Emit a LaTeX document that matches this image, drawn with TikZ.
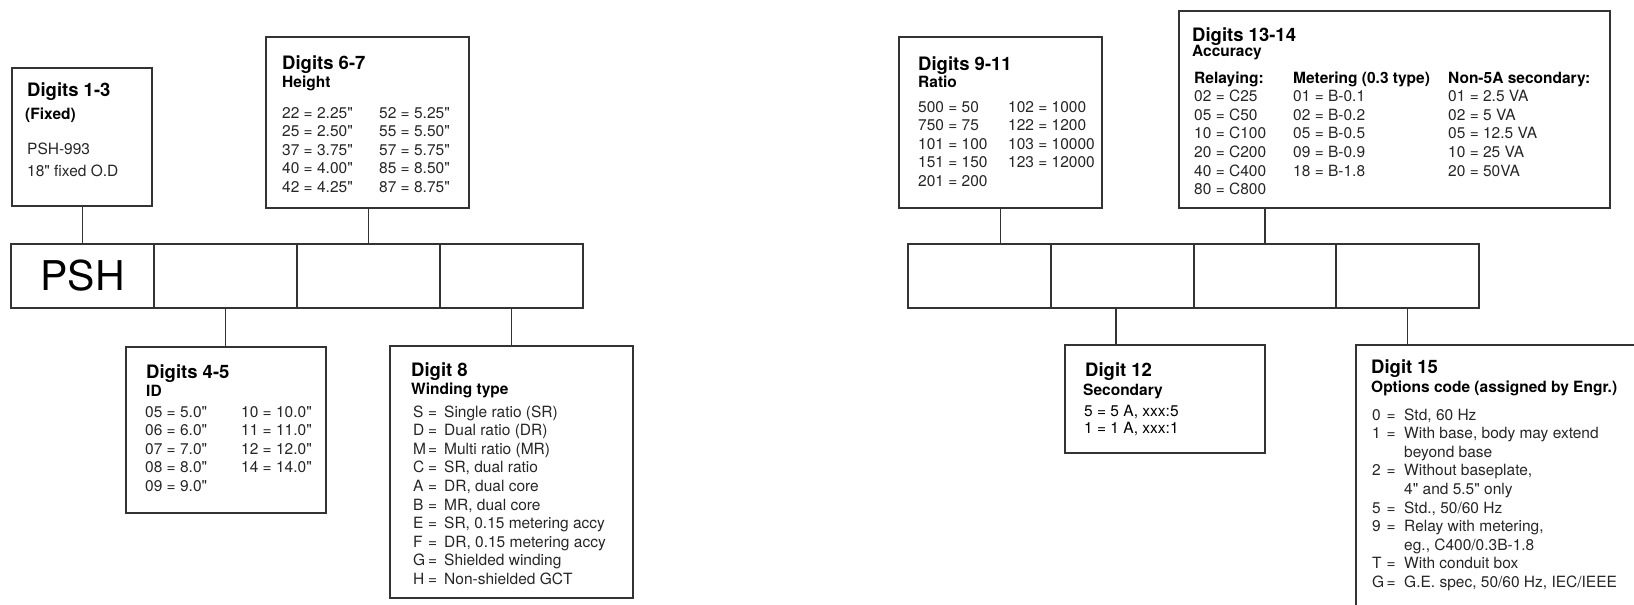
\documentclass[tikz,border=0pt]{standalone}
\usepackage{fontspec}
\setmainfont{TeX Gyre Heros}
% straight inch mark, set without the TeX quote mapping
\font\inchfont="TeX Gyre Heros" at 15.5pt
\newcommand{\inch}{{\inchfont\char"22}}

\begin{document}
\begin{tikzpicture}[x=1pt, y=-1pt,
  infobox/.style={draw=black!80, line width=1.2pt, inner sep=0pt},
  cell/.style={draw=black!80, line width=1.2pt, inner sep=0pt,
               minimum width=143pt, minimum height=64pt},
  link/.style={draw=black!80, line width=1.2pt},
  head/.style={anchor=base west, inner sep=0pt,
               font=\fontsize{18.5}{20}\selectfont\bfseries},
  sub/.style={anchor=base west, inner sep=0pt,
              font=\fontsize{15.5}{18}\selectfont\bfseries},
  body/.style={anchor=base west, inner sep=0pt, text=black!85,
               font=\fontsize{15.5}{18.6}\selectfont}
]
  \useasboundingbox (0,0) rectangle (1634,605);

  % left code row
  \node[cell, font=\fontsize{41}{41}\selectfont] (l1) at (82.5,276) {PSH};
  \node[cell] (l2) at (225.5,276) {};
  \node[cell] (l3) at (368.5,276) {};
  \node[cell] (l4) at (511.5,276) {};

  % right code row
  \node[cell] (r1) at (979.5,276) {};
  \node[cell] (r2) at (1122.5,276) {};
  \node[cell] (r3) at (1265,276) {};
  \node[cell] (r4) at (1407.5,276) {};

  % boxes
  \node[infobox, minimum width=140pt, minimum height=138pt] (fix)   at (82,137) {};
  \node[infobox, minimum width=203pt, minimum height=171pt] (hgt)   at (367.5,122.5) {};
  \node[infobox, minimum width=200pt, minimum height=166pt] (id)    at (226,430) {};
  \node[infobox, minimum width=243pt, minimum height=252pt] (wind)  at (511.5,472) {};
  \node[infobox, minimum width=203pt, minimum height=171pt] (ratio) at (1000.5,122.5) {};
  \node[infobox, minimum width=431pt, minimum height=197pt] (acc)   at (1394.5,109.5) {};
  \node[infobox, minimum width=200pt, minimum height=108pt] (sec)   at (1165,399) {};
  \node[infobox, minimum width=344pt, minimum height=335pt] (opt)   at (1528,512.5) {};

  % connectors
  \draw[link] (l1.north) -- (l1.north |- fix.south);
  \draw[link] (l3.north) -- (l3.north |- hgt.south);
  \draw[link] (l2.south) -- (l2.south |- id.north);
  \draw[link] (l4.south) -- (l4.south |- wind.north);
  \draw[link] (ratio.south) -- (ratio.south |- r1.north);
  \draw[link] (r3.north) -- (r3.north |- acc.south);
  \draw[link] ([xshift=-6.5pt]r2.south) -- ([xshift=-6.5pt]r2.south |- sec.north);
  \draw[link] (r4.south) -- (r4.south |- opt.north);

  % Digits 1-3
  \node[head] (fixT) at (27,96) {Digits 1-3};
  \node[sub]  (fixS) at (25,119) {(Fixed)};
  \node[body, font=\fontsize{15.5}{22}\selectfont] (fixB) at (27,154)
    {\begin{tabular}[t]{@{}l@{}}PSH-993\\18\inch{} fixed O.D\end{tabular}};

  % Digits 6-7
  \node[head] (hgtT) at (282,69) {Digits 6-7};
  \node[sub]  (hgtS) at (282,87) {Height};
  \node[body] (hgtB) at (282,118) {\begin{tabular}[t]{@{}p{97pt}@{}l@{}}
    22 = 2.25\inch & 52 = 5.25\inch\\
    25 = 2.50\inch & 55 = 5.50\inch\\
    37 = 3.75\inch & 57 = 5.75\inch\\
    40 = 4.00\inch & 85 = 8.50\inch\\
    42 = 4.25\inch & 87 = 8.75\inch\end{tabular}};

  % Digits 4-5
  \node[head] (idT) at (146,378) {Digits 4-5};
  \node[sub]  (idS) at (146,396) {ID};
  \node[body] (idB) at (145,417) {\begin{tabular}[t]{@{}p{96pt}@{}l@{}}
    05 = 5.0\inch & 10 = 10.0\inch\\
    06 = 6.0\inch & 11 = 11.0\inch\\
    07 = 7.0\inch & 12 = 12.0\inch\\
    08 = 8.0\inch & 14 = 14.0\inch\\
    09 = 9.0\inch & \end{tabular}};

  % Digit 8
  \node[head] (windT) at (411,376) {Digit 8};
  \node[sub]  (windS) at (411,394) {Winding type};
  \node[body] (windB) at (413,417) {\begin{tabular}[t]{@{}p{15pt}@{}p{16pt}@{}l@{}}
    S & = & Single ratio (SR)\\
    D & = & Dual ratio (DR)\\
    M & = & Multi ratio (MR)\\
    C & = & SR, dual ratio\\
    A & = & DR, dual core\\
    B & = & MR, dual core\\
    E & = & SR, 0.15 metering accy\\
    F & = & DR, 0.15 metering accy\\
    G & = & Shielded winding\\
    H & = & Non-shielded GCT\end{tabular}};

  % Digits 9-11
  \node[head] (ratioT) at (918,70) {Digits 9-11};
  \node[sub]  (ratioS) at (918,87) {Ratio};
  \node[body] (ratioB) at (918,112) {\begin{tabular}[t]{@{}p{90pt}@{}l@{}}
    500 = 50 & 102 = 1000\\
    750 = 75 & 122 = 1200\\
    101 = 100 & 103 = 10000\\
    151 = 150 & 123 = 12000\\
    201 = 200 & \end{tabular}};

  % Digits 13-14
  \node[head] (accT) at (1192,41) {Digits 13-14};
  \node[sub]  (accS) at (1192,56) {Accuracy};
  \node[body] (accB) at (1194,83) {\begin{tabular}[t]{@{}p{99pt}@{}p{155pt}@{}l@{}}
    \textcolor{black}{\bfseries Relaying:} & \textcolor{black}{\bfseries Metering (0.3 type)}
      & \textcolor{black}{\bfseries Non-5A secondary:}\\
    02 = C25 & 01 = B-0.1 & 01 = 2.5 VA\\
    05 = C50 & 02 = B-0.2 & 02 = 5 VA\\
    10 = C100 & 05 = B-0.5 & 05 = 12.5 VA\\
    20 = C200 & 09 = B-0.9 & 10 = 25 VA\\
    40 = C400 & 18 = B-1.8 & 20 = 50VA\\
    80 = C800 & & \end{tabular}};

  % Digit 12
  \node[head] (secT) at (1085,376) {Digit 12};
  \node[sub]  (secS) at (1083,395) {Secondary};
  \node[body, text=black, font=\fontsize{15.5}{17}\selectfont] (secB) at (1084,416)
    {\begin{tabular}[t]{@{}l@{}}5 = 5 A, xxx:5\\1 = 1 A, xxx:1\end{tabular}};

  % Digit 15
  \node[head] (optT) at (1371,373) {Digit 15};
  \node[sub]  (optS) at (1371,392) {Options code (assigned by Engr.)};
  \node[body] (optB) at (1372,420) {\begin{tabular}[t]{@{}p{14.5pt}@{}p{17.5pt}@{}l@{}}
    0 & = & Std, 60 Hz\\
    1 & = & With base, body may extend\\
      &   & beyond base\\
    2 & = & Without baseplate,\\
      &   & 4\inch{} and 5.5\inch{} only\\
    5 & = & Std., 50/60 Hz\\
    9 & = & Relay with metering,\\
      &   & eg., C400/0.3B-1.8\\
    T & = & With conduit box\\
    G & = & G.E. spec, 50/60 Hz, IEC/IEEE\end{tabular}};
\end{tikzpicture}
\end{document}
